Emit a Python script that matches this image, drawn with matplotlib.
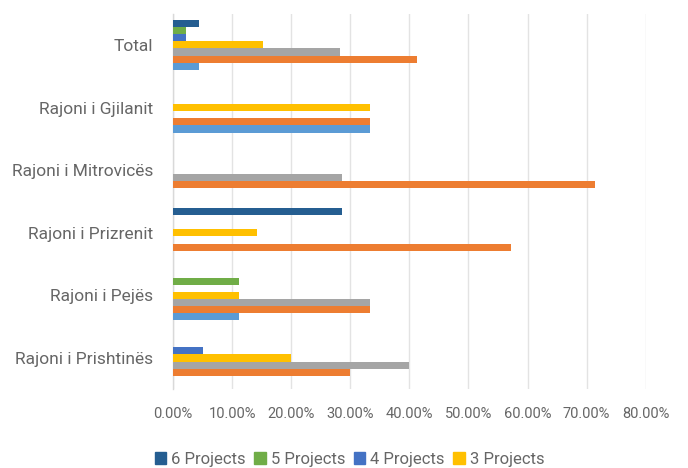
import numpy as np
import matplotlib
matplotlib.use('Agg')
import matplotlib.pyplot as plt
from matplotlib.patches import Patch
from matplotlib.ticker import FuncFormatter

# categories, bottom to top
regions = ['Rajoni i Prishtinës', 'Rajoni i Pejës', 'Rajoni i Prizrenit',
           'Rajoni i Mitrovicës', 'Rajoni i Gjilanit', 'Total']

series_names = ['0 Projects', '1 Project', '2 Projects', '3 Projects',
                '4 Projects', '5 Projects', '6 Projects']

# shares per region, same order as regions
p0 = [0.0, 0.1111, 0.0, 0.0, 0.3333, 0.0435]
p1 = [0.30, 0.3333, 0.5714, 0.7143, 0.3333, 0.4130]
p2 = [0.40, 0.3333, 0.0, 0.2857, 0.0, 0.2826]
p3 = [0.20, 0.1111, 0.1429, 0.0, 0.3333, 0.1522]
p4 = [0.05, 0.0, 0.0, 0.0, 0.0, 0.0217]
p5 = [0.0, 0.1111, 0.0, 0.0, 0.0, 0.0217]
p6 = [0.0, 0.0, 0.2857, 0.0, 0.0, 0.0435]

colors = ['#5B9BD5', '#ED7D31', '#A5A5A5', '#FFC000',
          '#4472C4', '#70AD47', '#255E91']

txt = '#666666'
plt.rcParams['font.family'] = ['Roboto', 'DejaVu Sans']

fig = plt.figure(figsize=(6.88, 4.68), dpi=100)
ax = fig.add_axes([0.2515, 0.168, 0.687, 0.803])

data = [p0, p1, p2, p3, p4, p5, p6]
y = np.arange(len(regions))
n = len(data)
h = 0.8 / n
for i, vals in enumerate(data):
    ax.barh(y + (i - (n - 1) / 2) * h, vals, height=h, color=colors[i],
            label=series_names[i], zorder=3)

ax.set_xlim(0, 0.8)
ax.set_ylim(-0.5, len(regions) - 0.5)
ax.set_xticks(np.arange(0, 0.81, 0.1))
ax.xaxis.set_major_formatter(FuncFormatter(lambda v, _: f'{v * 100:.2f}%'))
ax.set_yticks(y)
ax.set_yticklabels(regions)
ax.tick_params(axis='y', length=0, labelsize=12.5, colors=txt, pad=14)
ax.tick_params(axis='x', length=0, labelsize=10.5, colors=txt, pad=13)
ax.grid(axis='x', color='#E3E3E3', linewidth=1, zorder=0)
for s in ['top', 'right', 'bottom']:
    ax.spines[s].set_visible(False)
ax.spines['left'].set_color('#D9D9D9')
ax.spines['left'].set_linewidth(1)

# only the first legend row is visible in the reference
order = [6, 5, 4, 3]
handles = [Patch(color=colors[i]) for i in order]
labels = [series_names[i] for i in order]
fig.legend(handles, labels, loc='center', bbox_to_anchor=(0.508, 0.019),
           ncol=4, frameon=False, fontsize=12, labelcolor=txt,
           handlelength=0.7, handleheight=0.7, handletextpad=0.3,
           columnspacing=0.5)

fig.savefig('out.png', dpi=100)
